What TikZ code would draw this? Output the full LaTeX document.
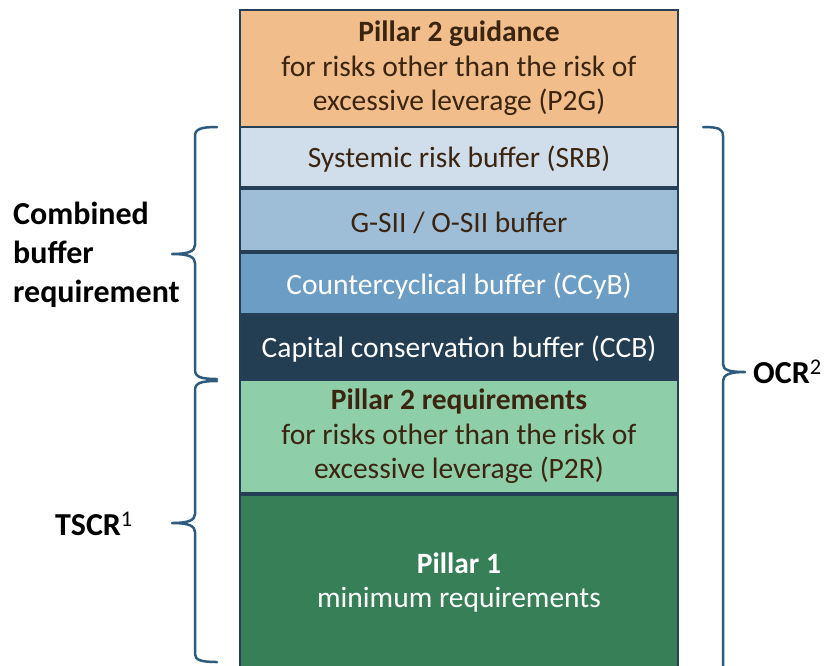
\documentclass[tikz,border=0pt]{standalone}
\usepackage{fontspec}
\setmainfont{Carlito}
\definecolor{frame}{HTML}{253F56}
\definecolor{cP2G}{HTML}{F1BE8B}
\definecolor{cSRB}{HTML}{CFDEEA}
\definecolor{cGSII}{HTML}{9EBED8}
\definecolor{cCCYB}{HTML}{6B9DC5}
\definecolor{cCCB}{HTML}{233D53}
\definecolor{cP2R}{HTML}{8ECFA9}
\definecolor{cP1}{HTML}{377F57}
\definecolor{txt}{HTML}{3B2410}
\definecolor{bracec}{HTML}{2E5B7D}
\begin{document}
\begin{tikzpicture}[x=1pt,y=-1pt,
  blk/.style={draw=frame, line width=2pt, minimum width=438pt, inner sep=0pt,
    align=center, font=\fontsize{29.5}{34.5}\selectfont,
    execute at begin node={\rule{0pt}{26.5pt}}},
  lab/.style={inner sep=0pt, font=\fontsize{32}{39}\selectfont, text=black},
  bracepath/.style={draw=bracec, line width=2.5pt, line cap=round, line join=round}]
\useasboundingbox (0,0) rectangle (830,665);
\fill[white] (0,0) rectangle (830,665);

\node[blk, fill=cP2G, text=txt, minimum height=117pt] (p2g) at (459,68.5)
  {\textbf{Pillar 2 guidance}\\for risks other than the risk of\\excessive leverage (P2G)};
\node[blk, fill=cSRB, text=txt, minimum height=60pt] (srb) at (459,157) {Systemic risk buffer (SRB)};
\node[blk, fill=cGSII, text=txt, minimum height=62pt] (gsii) at (459,220) {G-SII / O-SII buffer};
\node[blk, fill=cCCYB, text=white, minimum height=61pt] (ccyb) at (459,283.5) {Countercyclical buffer (CCyB)};
\node[blk, fill=cCCB, text=white, minimum height=62pt] (ccb) at (459,347) {Capital conservation buffer (CCB)};
\node[blk, fill=cP2R, text=txt, minimum height=113pt] (p2r) at (459,436.5)
  {\textbf{Pillar 2 requirements}\\for risks other than the risk of\\excessive leverage (P2R)};
\node[blk, fill=cP1, text=white, minimum height=175pt] (p1) at (459,582.5)
  {\textbf{Pillar 1}\\minimum requirements};

% left brace 1
\draw[bracepath] (217,127) .. controls (201,127) and (195,129) .. (195,136) -- (195,245)
  .. controls (195,251) and (189,254) .. (172,254)
  .. controls (189,254) and (195,257) .. (195,263) -- (195,370)
  .. controls (195,377) and (201,379) .. (217,379);
% left brace 2
\draw[bracepath] (217,381) .. controls (201,381) and (195,383) .. (195,390) -- (195,514)
  .. controls (195,520) and (189,523) .. (172,523)
  .. controls (189,523) and (195,526) .. (195,532) -- (195,654)
  .. controls (195,660) and (201,662) .. (217,662);
% right brace
\draw[bracepath] (703,127) .. controls (719,127) and (723,129) .. (723,136) -- (723,364)
  .. controls (723,370) and (729,372) .. (745,372)
  .. controls (729,372) and (723,375) .. (723,381) -- (723,700);

\node[lab, anchor=west, align=left] (cbr) at (13,255) {\textbf{Combined}\\\textbf{buffer}\\\textbf{requirement}};
\node[lab, anchor=west] (tscr) at (55,524) {\textbf{TSCR}\textsuperscript{1}};
\node[lab, anchor=west] (ocr) at (753,372) {\textbf{OCR}\textsuperscript{2}};
\end{tikzpicture}
\end{document}
